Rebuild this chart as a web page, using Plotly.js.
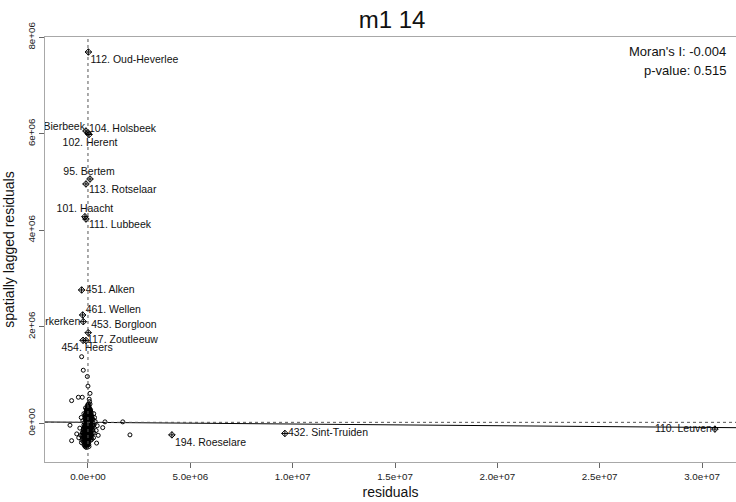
<!DOCTYPE html>
<html>
<head>
<meta charset="utf-8">
<script src="https://cdn.plot.ly/plotly-3.0.1.min.js"></script>
<style>html,body{margin:0;padding:0;overflow:hidden;background:#fff;}</style>
</head>
<body>
<div id="chart" style="width:736px;height:502px;"></div>
<script>
// values in millions (axis tick text gives the e+06 notation)
var residuals = [0.02,0.05,-0.03,0.08,0.00,-0.06,0.12,0.03,-0.10,0.06,0.15,-0.02,0.09,-0.08,0.20,0.01,-0.14,0.11,0.04,-0.05,0.25,0.14,-0.11,0.07,-0.02,0.18,-0.18,0.10,0.03,-0.07,0.30,0.22,-0.13,0.05,-0.01,0.13,-0.20,0.08,-0.09,0.02,0.17,-0.04,-0.16,0.10,0.00,-0.24,0.06,-0.11,0.21,-0.03,-0.19,0.04,-0.08,0.12,-0.26,-0.01,-0.14,0.07,-0.06,-0.21,0.02,-0.10,-0.30,0.00,-0.16,-0.04,-0.12,-0.02,-0.08,-0.05,
 -0.04,0.10,0.00,-0.12,0.17,0.05,-0.03,0.22,-0.09,0.12,0.00,-0.15,0.08,-0.04,0.16,-0.10,0.03,0.26,-0.17,0.09,-0.05,0.01,0.15,-0.22,-0.07,0.05,-0.13,0.13,-0.02,-0.28,0.09,-0.06,0.00,-0.17,0.16,-0.10,-0.03,0.05,-0.22,-0.09,0.03,-0.15,-0.27,0.19,-0.35,0.35,0.40,-0.40,0.28,-0.20,
 0.01,-0.01,0.04,-0.06,0.02,-0.03,0.07,-0.12,0.11,-0.08,0.06,-0.05,0.03,-0.07,0.00,-0.11,0.09,-0.18,0.14,0.19,-0.02,0.08,-0.01,-0.06,0.04,
 -0.12,0.06,-0.02,0.13,-0.07,0.02,0.09,-0.05,0.16,-0.01,0.04,-0.09,0.12,0.00,-0.04,0.07,-0.13,0.02,0.15,-0.06,0.05,-0.01,0.10,-0.08,0.03,-0.03,0.13,-0.12,0.06,0.00,-0.05,0.09,-0.09,0.02,0.17,-0.02,0.06,-0.14,0.11,-0.06,0.01,-0.10,0.08,-0.01,0.04,-0.07,0.12,-0.15,0.01,-0.04,0.07,-0.09,-0.02,0.10,-0.13,0.03,-0.05,-0.19,0.06,-0.09,0.01,-0.13,-0.04,0.08,-0.17,-0.07,0.03,-0.11,-0.03,-0.14,-0.06,0.00,-0.10,-0.03,-0.12,-0.07,
 0.00,0.04,-0.08,0.10,-0.15,0.20,0.23,-0.20,0.24,-0.23,0.18,-0.25,0.14,-0.20,0.05,-0.16,-0.32,0.27,0.32,-0.25,0.45,-0.45,0.30,-0.33,-0.02,0.10,0.08,0.06,-0.01,0.05,-0.04,0.01,-0.02,0.03,-0.03,0.02,0.00,-0.05,
 -0.31,-0.23,-0.03,0.00,0.10,-0.80,-0.47,-0.28,0.83,1.70,2.05,0.72,0.42,-0.88,-0.80,-0.55,0.50];
var laggedResiduals = [0.40,0.35,0.33,0.30,0.28,0.26,0.25,0.22,0.21,0.20,0.18,0.17,0.15,0.14,0.13,0.12,0.11,0.10,0.09,0.08,0.07,0.06,0.05,0.04,0.03,0.02,0.01,0.00,-0.01,-0.02,-0.03,-0.04,-0.05,-0.06,-0.07,-0.08,-0.09,-0.10,-0.11,-0.12,-0.13,-0.14,-0.15,-0.16,-0.17,-0.18,-0.19,-0.20,-0.21,-0.22,-0.23,-0.24,-0.25,-0.26,-0.27,-0.28,-0.29,-0.30,-0.31,-0.32,-0.33,-0.34,-0.35,-0.36,-0.37,-0.38,-0.40,-0.42,-0.44,-0.47,
 0.30,0.27,0.24,0.19,0.16,0.14,0.11,0.09,0.07,0.05,0.06,0.03,0.01,0.00,-0.01,-0.03,-0.04,-0.06,-0.07,-0.07,-0.09,-0.10,-0.11,-0.12,-0.13,-0.14,-0.17,-0.18,-0.19,-0.20,-0.22,-0.23,-0.26,-0.26,-0.28,-0.28,-0.31,-0.34,-0.38,-0.39,-0.40,-0.43,-0.31,-0.33,-0.25,0.04,-0.15,-0.10,0.20,0.20,
 0.18,0.05,-0.02,-0.05,-0.08,-0.16,-0.12,-0.08,-0.03,0.02,0.08,0.13,-0.21,-0.27,-0.32,-0.24,-0.27,-0.19,-0.22,-0.09,0.21,0.23,-0.36,-0.41,-0.44,
 0.32,0.31,0.29,0.28,0.27,0.26,0.24,0.23,0.22,0.20,0.19,0.18,0.17,0.16,0.15,0.13,0.12,0.11,0.10,0.09,0.07,0.06,0.05,0.04,0.03,0.02,0.01,0.00,-0.02,-0.03,-0.04,-0.05,-0.06,-0.07,-0.07,-0.09,-0.10,-0.10,-0.12,-0.12,-0.13,-0.14,-0.15,-0.15,-0.17,-0.18,-0.19,-0.21,-0.20,-0.21,-0.23,-0.22,-0.24,-0.25,-0.25,-0.27,-0.28,-0.28,-0.29,-0.30,-0.30,-0.32,-0.33,-0.32,-0.35,-0.36,-0.37,-0.37,-0.39,-0.40,-0.42,-0.43,-0.45,-0.46,-0.49,-0.50,
 0.36,0.33,0.29,0.21,0.16,0.04,-0.02,-0.03,-0.14,-0.15,-0.24,-0.24,-0.35,-0.44,-0.48,-0.47,-0.40,-0.30,0.12,0.05,-0.05,-0.30,-0.20,0.12,0.38,0.40,0.45,0.50,0.01,0.00,-0.01,-0.05,-0.11,-0.14,0.07,0.14,-0.25,-0.35,
 1.38,1.10,0.97,0.77,0.62,0.47,0.54,0.54,0.03,0.03,-0.24,-0.09,-0.41,-0.04,-0.36,-0.22,-0.25];

var inflNames = ["112. Oud-Heverlee","104. Holsbeek","96. Bierbeek","102. Herent","95. Bertem","113. Rotselaar","101. Haacht","111. Lubbeek","451. Alken","461. Wellen","457. Nieuwerkerken","453. Borgloon","117. Zoutleeuw","454. Heers","194. Roeselare","432. Sint-Truiden","110. Leuven"];
var inflResiduals = [0.02,0.00,-0.10,0.05,0.10,-0.10,-0.15,-0.10,-0.31,-0.26,-0.23,0.01,-0.10,-0.24,4.10,9.62,30.63];
var inflLagged = [7.695,6.017,6.058,5.985,5.063,4.960,4.282,4.234,2.763,2.245,2.106,1.878,1.716,1.720,-0.240,-0.210,-0.120];

var xTickVals = [0,5,10,15,20,25,30];
var xTickText = ["0.0e+00","5.0e+06","1.0e+07","1.5e+07","2.0e+07","2.5e+07","3.0e+07"];
var yTickVals = [0,2,4,6,8];
var yTickText = ["0e+00","2e+06","4e+06","6e+06","8e+06"];

var meanResidual = 0.0;
var meanLagged = 0.02;
var slope = -0.0035;
var moranText = "Moran's I: -0.004";
var pText = "p-value: 0.515";

// ---- layout geometry / styles ----
var W = 736, H = 502, mL = 45, mR = 0, mT = 37, mB = 40;
var xRange = [-2.10, 31.66];
var yRange = [-0.802, 8.006];
var plotW = W - mL - mR, plotH = H - mT - mB;
var xPerPx = (xRange[1] - xRange[0]) / plotW;
var yPerPx = (yRange[1] - yRange[0]) / plotH;

// label placement: [anchor, dx px, dy px (down positive)]
var labelPlace = [
  ["middle right", 2, 8], ["middle right", 1, -4], ["middle left", -1, -4], ["middle center", 1, 9],
  ["middle center", -1, -7], ["middle right", 3, 6], ["middle center", 0, -7], ["middle right", 3, 6],
  ["middle right", 4, 0], ["middle right", 3, -5], ["middle left", -3, 1], ["middle right", 3, -7],
  ["middle right", 1, 0], ["middle center", 4, 8.5], ["middle right", 3, 8], ["middle right", 3, 0],
  ["middle left", -3, 0.5]
];

var font = "Liberation Sans, Arial, Helvetica, sans-serif";

var traces = [];
traces.push({
  type: "scatter", mode: "markers", x: residuals, y: laggedResiduals,
  marker: {symbol: "circle-open", size: 4, color: "#000", line: {width: 1, color: "#000"}},
  hoverinfo: "skip", showlegend: false
});
traces.push({
  type: "scatter", mode: "lines",
  x: [xRange[0], xRange[1]],
  y: [meanLagged + slope * (xRange[0] - meanResidual), meanLagged + slope * (xRange[1] - meanResidual)],
  line: {color: "#000", width: 1}, hoverinfo: "skip", showlegend: false
});
traces.push({
  type: "scatter", mode: "markers", x: inflResiduals, y: inflLagged,
  marker: {symbol: "diamond-cross-open", size: 5, color: "#000", line: {width: 1, color: "#000"}},
  hoverinfo: "skip", showlegend: false
});
traces.push({
  type: "scatter", mode: "text", cliponaxis: true,
  x: inflResiduals.map(function(v, i){ return v + labelPlace[i][1] * xPerPx; }),
  y: inflLagged.map(function(v, i){ return v - labelPlace[i][2] * yPerPx; }),
  text: inflNames,
  textposition: labelPlace.map(function(p){ return p[0]; }),
  textfont: {family: font, size: 10.5, color: "#111"},
  hoverinfo: "skip", showlegend: false
});

var layout = {
  width: W, height: H,
  margin: {l: mL, r: mR, t: mT, b: mB, pad: 0},
  paper_bgcolor: "#fff", plot_bgcolor: "#fff",
  font: {family: font, color: "#222"},
  title: {text: "m1 14", font: {family: font, size: 24, color: "#111"},
          x: 392 / W, xref: "container", xanchor: "center", y: 1 - 20 / H, yref: "container", yanchor: "middle"},
  xaxis: {
    range: xRange, showgrid: false, zeroline: false,
    showline: true, linecolor: "#a8a8a8", linewidth: 1.2, mirror: true,
    ticks: "outside", ticklen: 5, tickcolor: "#666", tickwidth: 1,
    tickvals: xTickVals, ticktext: xTickText,
    tickfont: {family: font, size: 9.8, color: "#222"},
    title: {text: "residuals", font: {family: font, size: 14, color: "#111"}, standoff: 6},
    automargin: false
  },
  yaxis: {
    range: yRange, showgrid: false, zeroline: false,
    showline: true, linecolor: "#a8a8a8", linewidth: 1.2, mirror: false,
    ticks: "outside", ticklen: 5, tickcolor: "#666", tickwidth: 1,
    tickvals: yTickVals, ticktext: yTickText, tickangle: -90,
    tickfont: {family: font, size: 9.8, color: "#222"},
    title: {text: "spatially lagged residuals", font: {family: font, size: 14, color: "#111"}, standoff: 8},
    automargin: false
  },
  shapes: [
    {type: "line", xref: "x", yref: "paper", x0: meanResidual, x1: meanResidual, y0: 0, y1: 1,
     line: {color: "#555", width: 1, dash: "3px,3px"}},
    {type: "line", xref: "paper", yref: "y", x0: 0, x1: 1, y0: meanLagged, y1: meanLagged,
     line: {color: "#555", width: 1, dash: "3px,3px"}}
  ],
  annotations: [
    {text: moranText, xref: "paper", yref: "paper", x: (728 - mL) / plotW, y: (H - mB - 52) / plotH,
     xanchor: "right", yanchor: "middle", showarrow: false, font: {family: font, size: 13, color: "#111"}},
    {text: pText, xref: "paper", yref: "paper", x: (728 - mL) / plotW, y: (H - mB - 70) / plotH,
     xanchor: "right", yanchor: "middle", showarrow: false, font: {family: font, size: 13, color: "#111"}}
  ]
};

Plotly.newPlot("chart", traces, layout, {displayModeBar: false, staticPlot: true});
</script>
</body>
</html>
